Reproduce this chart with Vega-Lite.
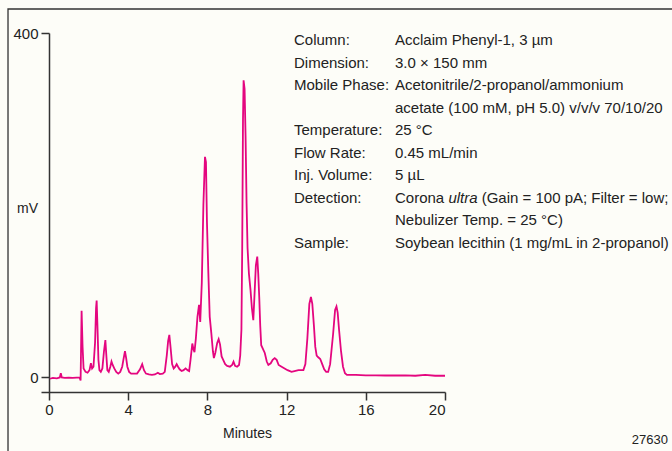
{
  "$schema": "https://vega.github.io/schema/vega-lite/v6.json",
  "autosize": "none",
  "padding": {"left": 41, "top": 33, "right": 227, "bottom": 59},
  "width": 404,
  "height": 359,
  "background": "#fdfdf8",
  "config": {
    "view": {"stroke": null},
    "font": "Liberation Sans",
    "text": {"font": "Liberation Sans"},
    "axis": {"domainColor": "#333333", "tickColor": "#333333", "domainWidth": 1.5, "tickWidth": 1.5, "labelColor": "#222222", "titleColor": "#222222", "grid": false, "labelFont": "Liberation Sans", "titleFont": "Liberation Sans", "titleFontWeight": "normal"}
  },
  "datasets": {
    "trace": [
      {"t": 0.05, "mv": -2}, {"t": 0.2, "mv": -1}, {"t": 0.4, "mv": -1.5}, {"t": 0.55, "mv": -0.5}, {"t": 0.6, "mv": 4.5}, {"t": 0.65, "mv": -0.5},
      {"t": 0.8, "mv": -1}, {"t": 1.0, "mv": -0.8}, {"t": 1.2, "mv": -1}, {"t": 1.4, "mv": -0.8}, {"t": 1.55, "mv": -0.8}, {"t": 1.6, "mv": -4},
      {"t": 1.65, "mv": 77}, {"t": 1.7, "mv": 35}, {"t": 1.75, "mv": 10}, {"t": 1.85, "mv": 6}, {"t": 1.95, "mv": 5}, {"t": 2.05, "mv": 8},
      {"t": 2.12, "mv": 16}, {"t": 2.18, "mv": 10}, {"t": 2.25, "mv": 12}, {"t": 2.33, "mv": 40}, {"t": 2.38, "mv": 80}, {"t": 2.41, "mv": 89},
      {"t": 2.45, "mv": 60}, {"t": 2.5, "mv": 20}, {"t": 2.55, "mv": 8}, {"t": 2.62, "mv": 6}, {"t": 2.7, "mv": 10}, {"t": 2.78, "mv": 30},
      {"t": 2.85, "mv": 43}, {"t": 2.9, "mv": 25}, {"t": 2.95, "mv": 8}, {"t": 3.02, "mv": 6}, {"t": 3.1, "mv": 12}, {"t": 3.16, "mv": 18},
      {"t": 3.22, "mv": 14}, {"t": 3.3, "mv": 10}, {"t": 3.4, "mv": 6}, {"t": 3.5, "mv": 4}, {"t": 3.6, "mv": 6}, {"t": 3.7, "mv": 12},
      {"t": 3.76, "mv": 20}, {"t": 3.84, "mv": 30}, {"t": 3.9, "mv": 22}, {"t": 3.96, "mv": 12}, {"t": 4.05, "mv": 6}, {"t": 4.15, "mv": 4},
      {"t": 4.3, "mv": 4}, {"t": 4.45, "mv": 4}, {"t": 4.6, "mv": 9}, {"t": 4.71, "mv": 15}, {"t": 4.8, "mv": 8}, {"t": 4.9, "mv": 4},
      {"t": 5.05, "mv": 3}, {"t": 5.2, "mv": 2.5}, {"t": 5.35, "mv": 3}, {"t": 5.5, "mv": 5}, {"t": 5.6, "mv": 3.5}, {"t": 5.75, "mv": 4},
      {"t": 5.85, "mv": 6}, {"t": 5.95, "mv": 25}, {"t": 6.02, "mv": 42}, {"t": 6.08, "mv": 49}, {"t": 6.14, "mv": 35}, {"t": 6.22, "mv": 15},
      {"t": 6.3, "mv": 10}, {"t": 6.38, "mv": 12}, {"t": 6.45, "mv": 15}, {"t": 6.52, "mv": 12}, {"t": 6.6, "mv": 9}, {"t": 6.7, "mv": 7},
      {"t": 6.8, "mv": 8}, {"t": 6.9, "mv": 10}, {"t": 7.0, "mv": 8}, {"t": 7.08, "mv": 7}, {"t": 7.15, "mv": 20}, {"t": 7.24, "mv": 39},
      {"t": 7.3, "mv": 32}, {"t": 7.35, "mv": 29}, {"t": 7.42, "mv": 45}, {"t": 7.5, "mv": 70}, {"t": 7.58, "mv": 84}, {"t": 7.64, "mv": 64},
      {"t": 7.72, "mv": 110}, {"t": 7.8, "mv": 200}, {"t": 7.88, "mv": 256}, {"t": 7.93, "mv": 250}, {"t": 7.98, "mv": 180}, {"t": 8.05, "mv": 121},
      {"t": 8.12, "mv": 70}, {"t": 8.2, "mv": 51}, {"t": 8.28, "mv": 30}, {"t": 8.33, "mv": 22}, {"t": 8.4, "mv": 28}, {"t": 8.5, "mv": 40},
      {"t": 8.57, "mv": 44}, {"t": 8.64, "mv": 38}, {"t": 8.72, "mv": 24}, {"t": 8.8, "mv": 20}, {"t": 8.9, "mv": 15}, {"t": 9.0, "mv": 13},
      {"t": 9.14, "mv": 12}, {"t": 9.25, "mv": 14}, {"t": 9.32, "mv": 17.8}, {"t": 9.4, "mv": 13}, {"t": 9.5, "mv": 12}, {"t": 9.6, "mv": 14},
      {"t": 9.66, "mv": 25}, {"t": 9.72, "mv": 55}, {"t": 9.76, "mv": 150}, {"t": 9.8, "mv": 300}, {"t": 9.83, "mv": 345}, {"t": 9.88, "mv": 335},
      {"t": 9.93, "mv": 280}, {"t": 9.98, "mv": 202}, {"t": 10.03, "mv": 150}, {"t": 10.1, "mv": 120}, {"t": 10.18, "mv": 101}, {"t": 10.25, "mv": 80},
      {"t": 10.32, "mv": 66}, {"t": 10.38, "mv": 95}, {"t": 10.45, "mv": 130}, {"t": 10.52, "mv": 140}, {"t": 10.57, "mv": 120}, {"t": 10.62, "mv": 93},
      {"t": 10.67, "mv": 60}, {"t": 10.72, "mv": 37}, {"t": 10.8, "mv": 33}, {"t": 10.9, "mv": 28}, {"t": 11.0, "mv": 18}, {"t": 11.08, "mv": 14},
      {"t": 11.2, "mv": 16}, {"t": 11.3, "mv": 20}, {"t": 11.4, "mv": 22}, {"t": 11.5, "mv": 20}, {"t": 11.6, "mv": 14}, {"t": 11.75, "mv": 12},
      {"t": 11.9, "mv": 10}, {"t": 12.05, "mv": 8}, {"t": 12.25, "mv": 6}, {"t": 12.4, "mv": 7}, {"t": 12.6, "mv": 8}, {"t": 12.85, "mv": 8},
      {"t": 12.95, "mv": 15}, {"t": 13.05, "mv": 45}, {"t": 13.15, "mv": 85}, {"t": 13.23, "mv": 93}, {"t": 13.3, "mv": 85}, {"t": 13.38, "mv": 60},
      {"t": 13.45, "mv": 35}, {"t": 13.52, "mv": 25}, {"t": 13.6, "mv": 23}, {"t": 13.7, "mv": 21}, {"t": 13.8, "mv": 15}, {"t": 13.9, "mv": 9},
      {"t": 14.0, "mv": 6}, {"t": 14.1, "mv": 6}, {"t": 14.2, "mv": 15}, {"t": 14.35, "mv": 50}, {"t": 14.45, "mv": 78}, {"t": 14.52, "mv": 82},
      {"t": 14.58, "mv": 75}, {"t": 14.65, "mv": 55}, {"t": 14.75, "mv": 30}, {"t": 14.85, "mv": 12}, {"t": 14.95, "mv": 4.5}, {"t": 15.05, "mv": 2.5},
      {"t": 15.5, "mv": 2.5}, {"t": 16.0, "mv": 2}, {"t": 16.5, "mv": 2}, {"t": 17.0, "mv": 1.8}, {"t": 17.5, "mv": 1.8}, {"t": 18.0, "mv": 2},
      {"t": 18.5, "mv": 1.5}, {"t": 19.0, "mv": 2.5}, {"t": 19.5, "mv": 1.5}, {"t": 20.0, "mv": 1.5}
    ],
    "notes": [
      {"t": 12.375, "mv": 386.0, "txt": "Column:", "it": false},
      {"t": 12.375, "mv": 359.8, "txt": "Dimension:", "it": false},
      {"t": 12.375, "mv": 333.7, "txt": "Mobile Phase:", "it": false},
      {"t": 12.375, "mv": 281.4, "txt": "Temperature:", "it": false},
      {"t": 12.375, "mv": 255.2, "txt": "Flow Rate:", "it": false},
      {"t": 12.375, "mv": 229.0, "txt": "Inj. Volume:", "it": false},
      {"t": 12.375, "mv": 202.9, "txt": "Detection:", "it": false},
      {"t": 12.375, "mv": 150.6, "txt": "Sample:", "it": false},
      {"t": 17.475, "mv": 386.0, "txt": "Acclaim Phenyl-1, 3 µm", "it": false},
      {"t": 17.475, "mv": 359.8, "txt": "3.0 × 150 mm", "it": false},
      {"t": 17.475, "mv": 333.7, "txt": "Acetonitrile/2-propanol/ammonium", "it": false},
      {"t": 17.475, "mv": 307.5, "txt": "acetate (100 mM, pH 5.0) v/v/v 70/10/20", "it": false},
      {"t": 17.475, "mv": 281.4, "txt": "25 °C", "it": false},
      {"t": 17.475, "mv": 255.2, "txt": "0.45 mL/min", "it": false},
      {"t": 17.475, "mv": 229.0, "txt": "5 µL", "it": false},
      {"t": 17.475, "mv": 202.9, "txt": "Corona", "it": false},
      {"t": 20.171, "mv": 202.9, "txt": "ultra", "it": true},
      {"t": 21.853, "mv": 202.9, "txt": "(Gain = 100 pA; Filter = low;", "it": false},
      {"t": 17.475, "mv": 176.7, "txt": "Nebulizer Temp. = 25 °C)", "it": false},
      {"t": 17.475, "mv": 150.6, "txt": "Soybean lecithin (1 mg/mL in 2-propanol)", "it": false}
    ],
    "frame": [{"t": -2.066, "t2": 40, "mv": -110, "mv2": 427.9}],
    "code": [{"t": 31.26, "mv": -77.9, "txt": "27630"}]
  },
  "layer": [
    {
      "data": {"name": "trace"},
      "mark": {"type": "line", "color": "#e4067f", "strokeWidth": 1.8, "interpolate": "linear"},
      "encoding": {
        "x": {"field": "t", "type": "quantitative", "scale": {"domain": [-0.4, 20], "nice": false, "zero": false},
          "axis": {"values": [0, 4, 8, 12, 16, 20], "tickSize": 8, "labelPadding": 2, "labelFontSize": 15, "title": "Minutes", "titleFontSize": 14, "titleX": 206, "titleY": 45, "titleBaseline": "alphabetic", "titleAnchor": null}},
        "y": {"field": "mv", "type": "quantitative", "scale": {"domain": [-17.4, 400], "nice": false, "zero": false},
          "axis": {"values": [0, 400], "offset": -8, "tickSize": 8, "labelPadding": 3, "labelFontSize": 15, "title": "mV", "titleAngle": 0, "titleFontSize": 14, "titleX": -22, "titleY": 175, "titleAlign": "center", "titleBaseline": "middle", "titleAnchor": null}}
      }
    },
    {
      "data": {"name": "frame"},
      "mark": {"type": "rect", "fill": null, "stroke": "#333333", "strokeWidth": 1.3, "clip": false},
      "encoding": {
        "x": {"field": "t", "type": "quantitative"},
        "x2": {"field": "t2"},
        "y": {"field": "mv", "type": "quantitative"},
        "y2": {"field": "mv2"}
      }
    },
    {
      "data": {"name": "notes"},
      "transform": [{"filter": "!datum.it"}],
      "mark": {"type": "text", "align": "left", "baseline": "alphabetic", "fontSize": 15, "color": "#222222", "clip": false},
      "encoding": {
        "x": {"field": "t", "type": "quantitative"},
        "y": {"field": "mv", "type": "quantitative"},
        "text": {"field": "txt"}
      }
    },
    {
      "data": {"name": "notes"},
      "transform": [{"filter": "datum.it"}],
      "mark": {"type": "text", "align": "left", "baseline": "alphabetic", "fontSize": 15, "fontStyle": "italic", "color": "#222222", "clip": false},
      "encoding": {
        "x": {"field": "t", "type": "quantitative"},
        "y": {"field": "mv", "type": "quantitative"},
        "text": {"field": "txt"}
      }
    },
    {
      "data": {"name": "code"},
      "mark": {"type": "text", "align": "right", "baseline": "alphabetic", "fontSize": 13, "color": "#222222", "clip": false},
      "encoding": {
        "x": {"field": "t", "type": "quantitative"},
        "y": {"field": "mv", "type": "quantitative"},
        "text": {"field": "txt"}
      }
    }
  ]
}
